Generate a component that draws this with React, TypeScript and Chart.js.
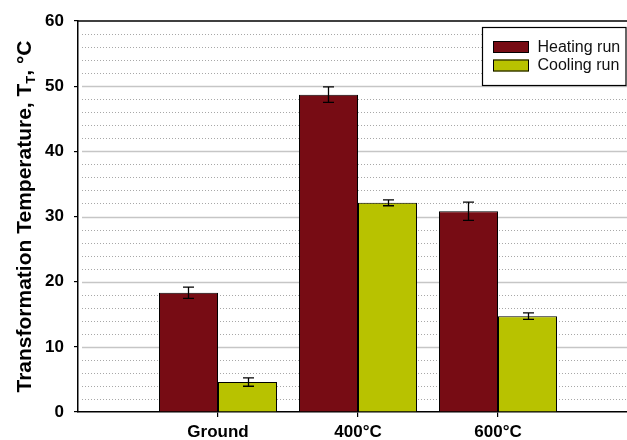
import React, { useEffect, useRef } from 'react';
import { Chart, registerables } from 'chart.js';

Chart.register(...registerables);

const categories = ['Ground', '400°C', '600°C'];
const heating = [18.3, 48.7, 30.8];
const heatingErr = [0.85, 1.2, 1.4];
const cooling = [4.6, 32.1, 14.7];
const coolingErr = [0.65, 0.45, 0.5];
const seriesNames = ['Heating run', 'Cooling run'];
const seriesColors = ['#770c14', '#b8c200'];
const yMin = 0;
const yMax = 60;
const yMajorStep = 10;
const yMinorStep = 2;

const FONT = '"Liberation Sans", Arial, Helvetica, sans-serif';

const overlay = {
  id: 'overlay',
  beforeDatasetsDraw(chart: any) {
    const { ctx, chartArea: a, scales } = chart;
    const y = scales.y;
    ctx.save();
    for (let v = yMin + yMinorStep; v < yMax; v += yMinorStep) {
      const py = Math.round(y.getPixelForValue(v)) + 0.5;
      ctx.beginPath();
      if (v % yMajorStep === 0) {
        ctx.setLineDash([]);
        ctx.strokeStyle = '#c6c6c6';
        ctx.lineWidth = 1.5;
      } else {
        ctx.setLineDash([1, 2]);
        ctx.strokeStyle = '#a8a8a8';
        ctx.lineWidth = 1;
      }
      ctx.moveTo(a.left + 4, py);
      ctx.lineTo(a.right, py);
      ctx.stroke();
    }
    ctx.restore();
  },
  afterDatasetsDraw(chart: any) {
    const { ctx, scales } = chart;
    const y = scales.y;
    ctx.save();
    ctx.strokeStyle = '#000';
    ctx.lineWidth = 1.3;
    chart.data.datasets.forEach((ds: any, di: number) => {
      const meta = chart.getDatasetMeta(di);
      meta.data.forEach((bar: any, i: number) => {
        const v = ds.data[i].y;
        const e = ds.errors[i];
        const yt = y.getPixelForValue(v + e);
        const yb = y.getPixelForValue(v - e);
        const x = Math.round(bar.x) + 0.5;
        ctx.beginPath();
        ctx.moveTo(x, yt);
        ctx.lineTo(x, yb);
        ctx.moveTo(x - 5.5, yt);
        ctx.lineTo(x + 5.5, yt);
        ctx.moveTo(x - 5.5, yb);
        ctx.lineTo(x + 5.5, yb);
        ctx.stroke();
      });
    });
    ctx.restore();
  },
  afterDraw(chart: any) {
    const { ctx, chartArea: a } = chart;
    ctx.save();
    // top frame line
    ctx.strokeStyle = '#000';
    ctx.lineWidth = 1.5;
    ctx.beginPath();
    ctx.moveTo(a.left, a.top);
    ctx.lineTo(a.right, a.top);
    ctx.stroke();

    // legend
    const bx = a.right - 145;
    const by = a.top + 6;
    const bw = 144.5;
    const bh = 59;
    ctx.fillStyle = '#fff';
    ctx.fillRect(bx, by, bw, bh);
    ctx.lineWidth = 1.2;
    ctx.strokeStyle = '#000';
    ctx.strokeRect(bx + 0.5, by + 0.5, bw - 1, bh - 1);
    ctx.font = `16px ${FONT}`;
    ctx.textBaseline = 'middle';
    ctx.textAlign = 'left';
    seriesNames.forEach((name, i) => {
      const sy = by + 14 + i * 18.5;
      ctx.fillStyle = seriesColors[i];
      ctx.fillRect(bx + 11, sy, 36, 12);
      ctx.lineWidth = 1;
      ctx.strokeStyle = '#000';
      ctx.strokeRect(bx + 11.5, sy + 0.5, 35, 11);
      ctx.fillStyle = '#111';
      ctx.fillText(name, bx + 55.5, sy + 6.5);
    });

    // y title with subscript
    const parts = [
      { t: 'Transformation Temperature, T', size: 21, dy: 0 },
      { t: 'T', size: 13, dy: 4 },
      { t: ', °C', size: 21, dy: 0 },
    ];
    let total = 0;
    parts.forEach((p) => {
      ctx.font = `bold ${p.size}px ${FONT}`;
      total += ctx.measureText(p.t).width;
    });
    ctx.translate(31, (a.top + a.bottom) / 2);
    ctx.rotate(-Math.PI / 2);
    ctx.textBaseline = 'alphabetic';
    ctx.fillStyle = '#000';
    let x = -total / 2;
    parts.forEach((p) => {
      ctx.font = `bold ${p.size}px ${FONT}`;
      ctx.fillText(p.t, x, p.dy);
      x += ctx.measureText(p.t).width;
    });
    ctx.restore();
  },
};

export default function App() {
  const ref = useRef<HTMLCanvasElement>(null);
  useEffect(() => {
    const canvas = ref.current;
    if (!canvas) return;
    const chart = new Chart(canvas, {
      type: 'bar',
      data: {
        datasets: [
          {
            label: seriesNames[0],
            data: heating.map((v, i) => ({ x: i + 1, y: v })),
            errors: heatingErr,
            backgroundColor: seriesColors[0],
            borderColor: '#000',
            borderWidth: 1,
          } as any,
          {
            label: seriesNames[1],
            data: cooling.map((v, i) => ({ x: i + 1, y: v })),
            errors: coolingErr,
            backgroundColor: seriesColors[1],
            borderColor: '#000',
            borderWidth: 1,
          } as any,
        ],
      },
      options: {
        animation: false,
        responsive: false,
        maintainAspectRatio: false,
        layout: { padding: { top: 21, right: 0, left: 0, bottom: 0 } },
        datasets: { bar: { categoryPercentage: 0.843, barPercentage: 1 } },
        plugins: { legend: { display: false }, tooltip: { enabled: false } },
        scales: {
          x: {
            type: 'linear',
            min: 0,
            max: 549 / 140,
            offset: false,
            bounds: 'ticks',
            afterBuildTicks: (scale: any) => {
              scale.ticks = categories.map((_, i) => ({ value: i + 1 }));
            },
            afterFit: (scale: any) => {
              scale.height = 28;
            },
            grid: { offset: false, drawOnChartArea: false, drawTicks: true, tickLength: 5, color: '#000', lineWidth: 1.2 },
            border: { color: '#000', width: 1.5 },
            ticks: {
              padding: 5,
              color: '#000',
              font: { family: FONT, size: 17, weight: 'bold' },
              callback: (v: any) => categories[Math.round(v) - 1] ?? '',
              maxRotation: 0,
              autoSkip: false,
            },
          },
          y: {
            min: yMin,
            max: yMax,
            afterFit: (scale: any) => {
              scale.width = 78;
            },
            grid: { drawOnChartArea: false, drawTicks: true, tickLength: 4, color: '#000', lineWidth: 1.2 },
            border: { color: '#000', width: 1.5 },
            ticks: {
              stepSize: yMajorStep,
              padding: 10,
              color: '#000',
              font: { family: FONT, size: 17, weight: 'bold' },
            },
          },
        },
      },
      plugins: [overlay],
    } as any);
    return () => chart.destroy();
  }, []);
  return (
    <div style={{ position: 'absolute', left: 0, top: 0, width: 627, height: 440, background: '#fff' }}>
      <canvas ref={ref} width={627} height={440} style={{ display: 'block' }} />
    </div>
  );
}
